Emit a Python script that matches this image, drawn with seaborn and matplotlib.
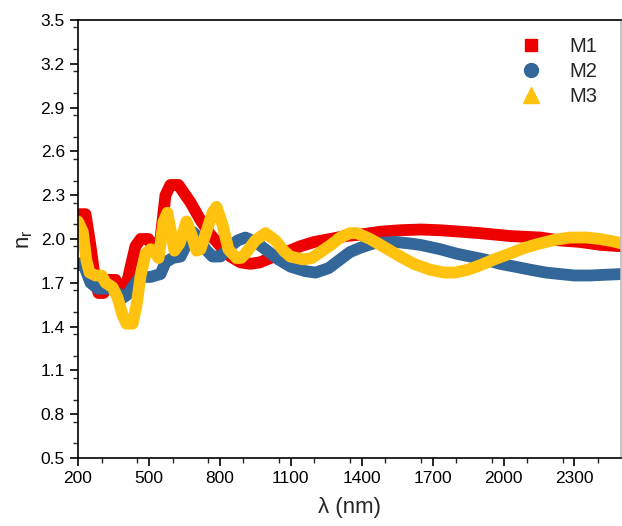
import numpy as np
import pandas as pd
import matplotlib
matplotlib.use("Agg")
import matplotlib.pyplot as plt
from matplotlib.lines import Line2D
from matplotlib.ticker import MultipleLocator
import seaborn as sns

# ---- data ----
lam_m1 = [200, 232, 253, 274, 287, 308, 317, 359, 372, 388, 410, 443, 465, 498, 519, 549,
          570, 591, 625, 676, 718, 760, 803, 845, 887, 929, 970, 1014, 1080, 1140, 1200,
          1267, 1330, 1394, 1480, 1563, 1650, 1732, 1820, 1901, 2030, 2155, 2240, 2323,
          2410, 2500]
n_m1 = [2.17, 2.17, 1.95, 1.70, 1.63, 1.63, 1.72, 1.72, 1.68, 1.62, 1.72, 1.95, 2.00, 2.00, 1.93, 2.00,
        2.30, 2.37, 2.37, 2.25, 2.13, 2.03, 1.95, 1.88, 1.84, 1.83, 1.84, 1.87, 1.91, 1.95, 1.98,
        2.00, 2.02, 2.03, 2.05, 2.06, 2.065, 2.06, 2.05, 2.04, 2.02, 2.01, 1.99, 1.98,
        1.96, 1.95]

lam_m2 = [200, 220, 253, 283, 308, 338, 367, 393, 410, 443, 465, 507, 549, 570, 600, 634,
          655, 684, 718, 739, 769, 803, 845, 875, 908, 951, 1000, 1048, 1100, 1161, 1205,
          1260, 1309, 1350, 1394, 1450, 1542, 1600, 1647, 1732, 1800, 1859, 1920, 1985,
          2050, 2112, 2180, 2239, 2300, 2365, 2430, 2500]
n_m2 = [1.82, 1.84, 1.70, 1.66, 1.66, 1.66, 1.63, 1.60, 1.62, 1.70, 1.74, 1.74, 1.76, 1.84, 1.87, 1.88,
        1.95, 2.05, 2.00, 1.93, 1.88, 1.88, 1.95, 1.99, 2.01, 1.98, 1.92, 1.86, 1.81, 1.78, 1.77,
        1.80, 1.86, 1.91, 1.94, 1.97, 1.98, 1.97, 1.96, 1.93, 1.90, 1.88, 1.86, 1.83,
        1.81, 1.79, 1.77, 1.76, 1.75, 1.75, 1.755, 1.76]

lam_m3 = [200, 220, 236, 249, 274, 300, 317, 346, 367, 388, 405, 431, 448, 465, 486, 507,
          528, 541, 562, 578, 608, 630, 659, 680, 701, 718, 743, 769, 786, 811, 836, 870,
          890, 908, 950, 993, 1035, 1070, 1098, 1153, 1190, 1225, 1270, 1309, 1350, 1380,
          1436, 1500, 1563, 1620, 1689, 1750, 1795, 1850, 1901, 1960, 2027, 2090, 2155,
          2220, 2281, 2350, 2408, 2460, 2500]
n_m3 = [2.12, 2.05, 1.85, 1.77, 1.75, 1.75, 1.70, 1.67, 1.60, 1.48, 1.42, 1.42, 1.55, 1.75, 1.90, 1.93,
        1.90, 1.87, 2.12, 2.18, 1.92, 1.97, 2.12, 2.03, 1.92, 1.93, 2.05, 2.18, 2.22, 2.10, 1.93, 1.87,
        1.87, 1.90, 1.99, 2.04, 1.99, 1.92, 1.88, 1.86, 1.87, 1.91, 1.96, 2.01, 2.04, 2.04,
        2.00, 1.94, 1.88, 1.83, 1.79, 1.77, 1.77, 1.79, 1.82, 1.86, 1.90, 1.94, 1.97,
        1.995, 2.01, 2.01, 2.00, 1.985, 1.97]

series = ["M1", "M2", "M3"]
colors = {"M1": "#EE0000", "M2": "#336699", "M3": "#FFC20E"}
markers = {"M1": "s", "M2": "o", "M3": "^"}
x_ticks = [200, 500, 800, 1100, 1400, 1700, 2000, 2300]
y_ticks = [0.5, 0.8, 1.1, 1.4, 1.7, 2.0, 2.3, 2.6, 2.9, 3.2, 3.5]

df = pd.concat([
    pd.DataFrame({"lam": lam_m1, "n": n_m1, "s": "M1"}),
    pd.DataFrame({"lam": lam_m2, "n": n_m2, "s": "M2"}),
    pd.DataFrame({"lam": lam_m3, "n": n_m3, "s": "M3"}),
], ignore_index=True)

sns.set_style("ticks")
plt.rcParams["font.family"] = ["Liberation Sans", "DejaVu Sans"]
plt.rcParams["mathtext.fontset"] = "custom"
plt.rcParams["mathtext.rm"] = "Liberation Sans"
plt.rcParams["mathtext.it"] = "Liberation Sans"

fig = plt.figure(figsize=(6.22, 5.26), dpi=100)
ax = fig.add_axes([78/622, 1 - 458/526, (621 - 78)/622, (458 - 20)/526])

for s in series:
    sns.lineplot(data=df[df["s"] == s], x="lam", y="n", color=colors[s], sort=False,
                 linewidth=8.5, solid_capstyle="round", solid_joinstyle="round",
                 estimator=None, ax=ax, legend=False)

ax.set_xlim(200, 2497)
ax.set_ylim(0.5, 3.5)
ax.set_xticks(x_ticks)
ax.set_yticks(y_ticks)
ax.set_yticklabels([f"{v:.1f}" for v in y_ticks])
ax.xaxis.set_minor_locator(MultipleLocator(150))
ax.yaxis.set_minor_locator(MultipleLocator(0.15))
ax.tick_params(which="major", direction="out", length=6, width=1.2, labelsize=12.5, colors="black")
ax.tick_params(which="minor", direction="out", length=3.5, width=1.0)
for sp in ax.spines.values():
    sp.set_linewidth(1.2)
    sp.set_color("black")
ax.spines["right"].set_color("#bbbbbb")

ax.set_xlabel("λ (nm)", fontsize=16, labelpad=8)
ax.set_ylabel(r"n$_\mathregular{r}$", fontsize=16, labelpad=4)

handles = [Line2D([], [], linestyle="none", marker=markers[s], color=colors[s],
                  markersize={"M1": 8, "M2": 10, "M3": 11}[s]) for s in series]
ax.legend(handles, series, loc="upper right", frameon=False, fontsize=14.5,
          bbox_to_anchor=(0.99, 1.003), handletextpad=0.9, labelspacing=0.3)

fig.savefig("out.png", dpi=100)
